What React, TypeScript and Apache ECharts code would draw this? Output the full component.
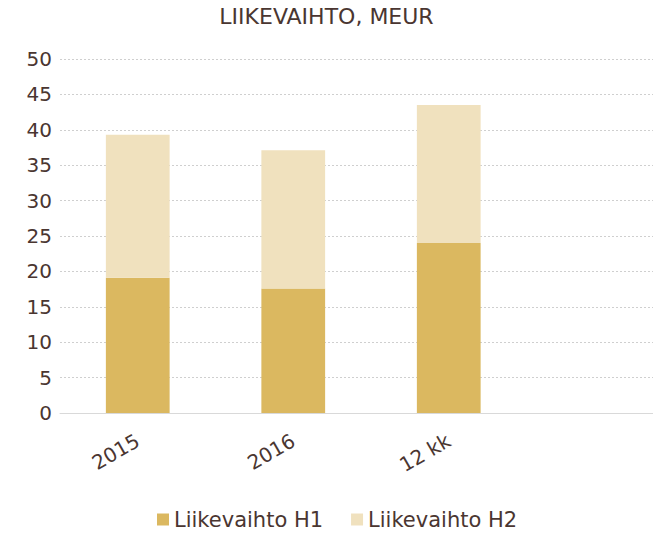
import React, { useEffect, useRef } from "react";
import * as echarts from "echarts";

const categories = ["2015", "2016", "12 kk", ""];
const h1Values = [19.1, 17.6, 24.0, null];
const h2Values = [20.2, 19.5, 19.5, null];
const seriesNames = ["Liikevaihto H1", "Liikevaihto H2"];
const titleText = "LIIKEVAIHTO, MEUR";

const FONT = "'DejaVu Sans', 'Liberation Sans', Arial, sans-serif";
const TEXT = "#4a3631";

export default function App() {
  const ref = useRef<HTMLDivElement>(null);
  useEffect(() => {
    if (!ref.current) return;
    const chart = echarts.init(ref.current, null, { renderer: "svg" });
    chart.setOption({
      animation: false,
      textStyle: { fontFamily: FONT },
      title: {
        text: titleText,
        left: "center",
        top: 0,
        textStyle: { fontFamily: FONT, fontSize: 22, fontWeight: "normal", color: TEXT },
      },
      legend: {
        bottom: 3,
        left: 157,
        padding: 0,
        itemWidth: 12,
        itemHeight: 12,
        itemGap: 28,
        icon: "rect",
        textStyle: { fontFamily: FONT, fontSize: 21, color: TEXT },
        data: seriesNames,
      },
      grid: {
        left: 60,
        width: 622,
        top: 59,
        bottom: 120,
        containLabel: false,
        outerBoundsMode: "none",
      },
      xAxis: {
        type: "category",
        data: categories,
        axisLine: { show: true, lineStyle: { color: "#d9d9d9", width: 1 } },
        axisTick: { show: false },
        axisLabel: {
          rotate: 30,
          margin: 26,
          fontSize: 20,
          color: TEXT,
          fontFamily: FONT,
          interval: 0,
        },
      },
      yAxis: {
        type: "value",
        min: 0,
        max: 50,
        interval: 5,
        axisLine: { show: false },
        axisTick: { show: false },
        axisLabel: { fontSize: 20, color: TEXT, fontFamily: FONT, margin: 8 },
        splitLine: { show: true, lineStyle: { color: "#cfcfcf", type: [2, 2], width: 1 } },
      },
      series: [
        {
          name: seriesNames[0],
          type: "bar",
          stack: "total",
          data: h1Values,
          barCategoryGap: "59%",
          itemStyle: { color: "#dbb860" },
        },
        {
          name: seriesNames[1],
          type: "bar",
          stack: "total",
          data: h2Values,
          barCategoryGap: "59%",
          itemStyle: { color: "#f0e1be" },
        },
      ],
    });
    return () => chart.dispose();
  }, []);
  return (
    <div
      ref={ref}
      style={{ position: "fixed", left: 0, top: 0, width: 653, height: 533, background: "#fff" }}
    />
  );
}
